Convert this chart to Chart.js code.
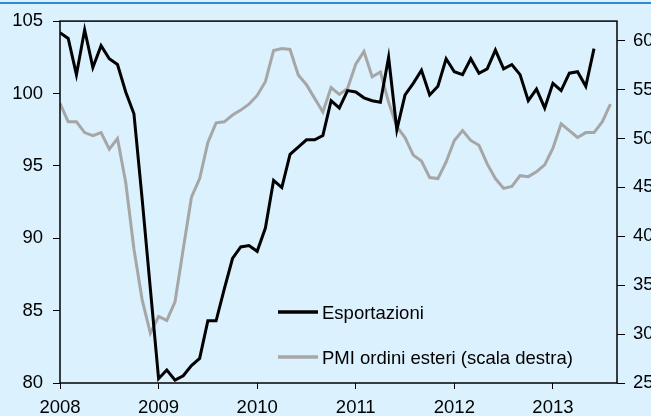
<!DOCTYPE html>
<html lang="it">
<head>
    <meta charset="UTF-8">
    <title>Esportazioni e PMI ordini esteri</title>
    <script src="https://cdn.jsdelivr.net/npm/chart.js"></script>
    <style>
        html, body { margin: 0; padding: 0; overflow: hidden; background: rgb(219, 241, 254); }
        canvas { display: block; }
    </style>
</head>
<body>
    <canvas id="grafico" width="651" height="416"></canvas>

    <script>
        // Dati mensili da gennaio 2008
        const annoIniziale = 2008;
        const anni = ['2008', '2009', '2010', '2011', '2012', '2013'];
        const tickSinistra = [80, 85, 90, 95, 100, 105];
        const tickDestra = [25, 30, 35, 40, 45, 50, 55, 60];

        // Esportazioni (scala sinistra), gen 2008 - giu 2013
        const esportazioni = [
            104.2, 103.8, 101.3, 104.4, 101.8, 103.3, 102.4, 102.0, 100.1, 98.6, 92.7, 86.5,
            80.3, 80.9, 80.2, 80.5, 81.2, 81.7, 84.3, 84.3, 86.5, 88.6, 89.4, 89.5,
            89.1, 90.7, 94.0, 93.5, 95.8, 96.3, 96.8, 96.8, 97.1, 99.5, 99.0, 100.2,
            100.1, 99.7, 99.5, 99.4, 102.5, 97.5, 99.9, 100.7, 101.6, 99.9, 100.5, 102.4,
            101.5, 101.3, 102.4, 101.4, 101.7, 103.0, 101.7, 102.0, 101.3, 99.5, 100.3, 99.0,
            100.7, 100.2, 101.4, 101.5, 100.5, 103.1
        ];

        // PMI ordini esteri (scala destra), gen 2008 - ago 2013
        const pmiOrdiniEsteri = [
            53.6, 51.7, 51.7, 50.6, 50.3, 50.6, 48.9, 50.0, 45.5, 38.7, 33.5, 30.1,
            31.8, 31.4, 33.3, 38.7, 44.0, 45.9, 49.6, 51.6, 51.7, 52.4, 52.9, 53.5,
            54.4, 55.8, 59.0, 59.2, 59.1, 56.5, 55.5, 54.1, 52.7, 55.2, 54.5, 55.1,
            57.6, 58.9, 56.3, 56.8, 53.7, 51.2, 50.1, 48.3, 47.7, 46.0, 45.9, 47.6,
            49.8, 50.8, 49.8, 49.3, 47.4, 45.9, 44.9, 45.1, 46.2, 46.1, 46.6, 47.3,
            49.0, 51.5, 50.8, 50.1, 50.6, 50.6, 51.7, 53.5
        ];

        const carattere = { family: "'Liberation Sans', Arial, sans-serif", size: 18.5 };
        const sfondo = 'rgb(219, 241, 254)';

        // punti {x: mese, y: valore}
        const comePunti = valori => valori.map((v, i) => ({ x: i, y: v }));
        const comeTick = valori => valori.map(v => ({ value: v }));

        // sfondo, filetto blu in alto e cornice dell'area del grafico
        const cornice = {
            id: 'cornice',
            beforeDraw(chart) {
                const ctx = chart.ctx;
                ctx.save();
                ctx.fillStyle = sfondo;
                ctx.fillRect(0, 0, chart.width, chart.height);
                ctx.fillStyle = '#2f8ad6';
                ctx.fillRect(0, 2, chart.width, 2);
                ctx.restore();
            },
            afterDraw(chart) {
                const { ctx, chartArea } = chart;
                ctx.save();
                ctx.strokeStyle = '#000';
                ctx.lineWidth = 1.5;
                ctx.strokeRect(chartArea.left, chartArea.top,
                    chartArea.right - chartArea.left, chartArea.bottom - chartArea.top);
                ctx.restore();
            }
        };

        // legenda dentro l'area del grafico, in basso
        const legendaInterna = {
            id: 'legendaInterna',
            afterDatasetsDraw(chart) {
                const { ctx, chartArea } = chart;
                chart.data.datasets.forEach((ds, i) => {
                    const x = chartArea.left + 218;
                    const y = chartArea.top + 291 + i * 45;
                    ctx.save();
                    ctx.strokeStyle = ds.borderColor;
                    ctx.lineWidth = 3.5;
                    ctx.beginPath();
                    ctx.moveTo(x, y);
                    ctx.lineTo(x + 40, y);
                    ctx.stroke();
                    ctx.fillStyle = '#000';
                    ctx.font = carattere.size + 'px ' + carattere.family;
                    ctx.textBaseline = 'middle';
                    ctx.fillText(ds.label, x + 44, y + 2);
                    ctx.restore();
                });
            }
        };

        new Chart(document.getElementById('grafico'), {
            type: 'line',
            data: {
                datasets: [{
                    label: 'Esportazioni',
                    data: comePunti(esportazioni),
                    borderColor: '#000000',
                    borderWidth: 3,
                    yAxisID: 'ySx'
                }, {
                    label: 'PMI ordini esteri (scala destra)',
                    data: comePunti(pmiOrdiniEsteri),
                    borderColor: '#a6a6a6',
                    borderWidth: 3,
                    yAxisID: 'yDx'
                }]
            },
            options: {
                responsive: false,
                animation: false,
                devicePixelRatio: 1,
                layout: { padding: { top: 21, left: 0, right: 0, bottom: 0 } },
                elements: {
                    point: { radius: 0 },
                    line: { tension: 0, borderJoinStyle: 'miter' }
                },
                plugins: {
                    legend: { display: false },
                    tooltip: { enabled: false }
                },
                scales: {
                    x: {
                        type: 'linear',
                        min: 0,
                        max: 67.8,
                        afterBuildTicks: s => { s.ticks = anni.map((a, i) => ({ value: i * 12 })); },
                        afterFit: s => { s.height = 33; },
                        ticks: {
                            color: '#000',
                            font: carattere,
                            padding: 8,
                            maxRotation: 0,
                            callback: v => String(annoIniziale + v / 12)
                        },
                        grid: { drawOnChartArea: false, tickLength: 6, color: '#000' },
                        border: { display: false }
                    },
                    ySx: {
                        position: 'left',
                        min: 80,
                        max: 105,
                        afterBuildTicks: s => { s.ticks = comeTick(tickSinistra); },
                        afterFit: s => { s.width = 60; },
                        ticks: { color: '#000', font: carattere, padding: 10 },
                        grid: { drawOnChartArea: false, tickLength: 7, color: '#000' },
                        border: { display: false }
                    },
                    yDx: {
                        position: 'right',
                        min: 25,
                        max: 62,
                        afterBuildTicks: s => { s.ticks = comeTick(tickDestra); },
                        afterFit: s => { s.width = 34; },
                        ticks: { color: '#000', font: carattere, padding: 8 },
                        grid: { drawOnChartArea: false, tickLength: 8, color: '#000' },
                        border: { display: false }
                    }
                }
            },
            plugins: [cornice, legendaInterna]
        });
    </script>
</body>
</html>
